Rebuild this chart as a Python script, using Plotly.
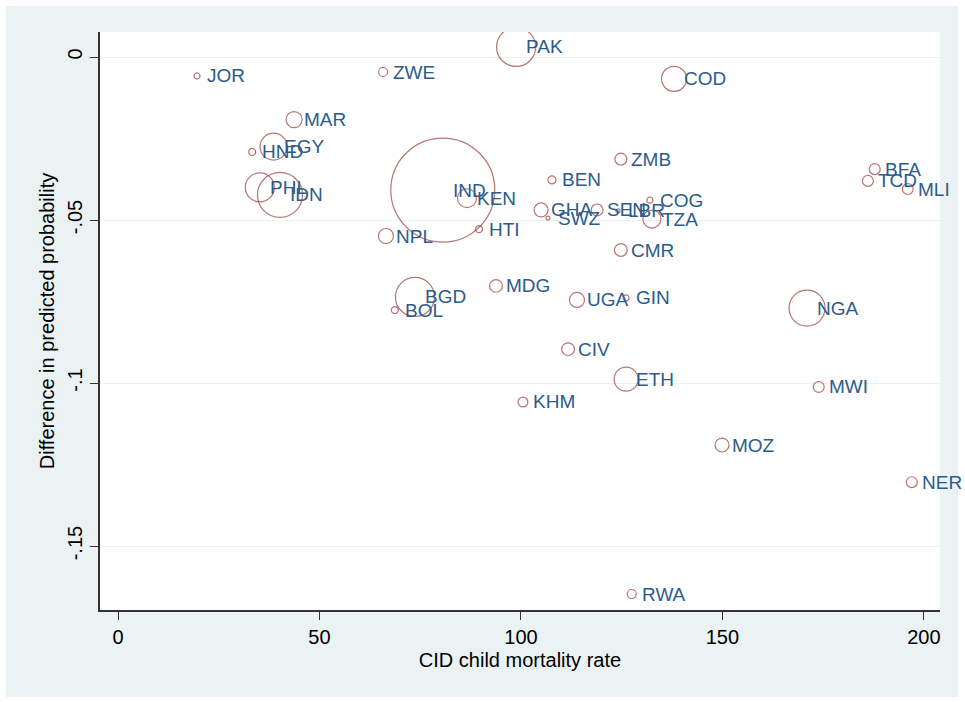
import plotly.graph_objects as go

countries = ["JOR", "ZWE", "PAK", "COD", "MAR", "EGY", "HND", "PHL", "IDN", "IND",
             "KEN", "HTI", "BEN", "ZMB", "GHA", "SWZ", "SEN", "LBR", "COG", "TZA",
             "CMR", "NPL", "MDG", "BGD", "BOL", "UGA", "GIN", "NGA", "CIV", "ETH",
             "MWI", "KHM", "MOZ", "NER", "RWA", "BFA", "TCD", "MLI"]
mortality = [19.6, 65.8, 98.8, 138.0, 43.7, 38.6, 33.3, 35.2, 40.2, 80.6,
             86.6, 89.6, 107.7, 124.8, 105.0, 106.7, 118.9, 124.1, 132.0, 132.5,
             124.8, 66.5, 93.8, 73.7, 68.7, 113.9, 126.1, 171.0, 111.7, 126.1,
             173.9, 100.5, 149.9, 197.0, 127.5, 187.8, 186.1, 196.0]
diff_prob = [-0.0058, -0.0046, 0.0031, -0.0067, -0.0192, -0.0275, -0.0291, -0.0400, -0.0423, -0.0408,
             -0.0433, -0.0528, -0.0377, -0.0313, -0.0469, -0.0494, -0.0469, -0.0472, -0.0439, -0.0497,
             -0.0592, -0.0549, -0.0702, -0.0736, -0.0776, -0.0745, -0.0739, -0.0770, -0.0896, -0.0988,
             -0.1012, -0.1058, -0.1190, -0.1304, -0.1647, -0.0344, -0.0380, -0.0405]
weights = [3.3, 7.5, 141, 58, 24, 67, 4.5, 78, 187, 1000,
           33, 4.5, 6, 13, 18, 0.8, 13, 0.8, 3.3, 30,
           15, 21, 15, 141, 4.5, 21, 3.3, 120, 15, 53,
           11, 9, 18, 11, 7.5, 11, 11, 11]

y_ticks = [0, -0.05, -0.1, -0.15]
y_tick_text = ["0", "-.05", "-.1", "-.15"]
x_ticks = [0, 50, 100, 150, 200]

MARKER_COLOR = "#9C3B3B"
LABEL_COLOR = "#2C5B8C"
BG = "#EAF2F3"
FONT = "Liberation Sans, Arial, sans-serif"

fig = go.Figure()
fig.add_trace(go.Scatter(
    x=mortality, y=diff_prob, mode="markers",
    marker=dict(size=weights, sizemode="area", sizeref=0.185, sizemin=2,
                color="rgba(0,0,0,0)", line=dict(color=MARKER_COLOR, width=1.2)),
    hoverinfo="text", text=countries, showlegend=False,
))

annotations = []
for c, xv, yv in zip(countries, mortality, diff_prob):
    annotations.append(dict(x=xv, y=yv, xref="x", yref="y", text=c, showarrow=False,
                            xanchor="left", yanchor="middle", xshift=8,
                            font=dict(family=FONT, size=19, color=LABEL_COLOR)))

L, R, T, B = 100, 940, 32, 610
W, H = 965, 702
pw, ph = R - L, B - T
def px2paper_x(px):
    return (px - L) / pw
def px2paper_y(py):
    return (B - py) / ph

shapes = [
    dict(type="rect", xref="paper", yref="paper", layer="below",
         x0=px2paper_x(6), x1=px2paper_x(958), y0=px2paper_y(697), y1=px2paper_y(6),
         fillcolor=BG, line=dict(width=0)),
    dict(type="rect", xref="paper", yref="paper", layer="below",
         x0=0, x1=1, y0=0, y1=1, fillcolor="white", line=dict(width=0)),
]

fig.update_layout(
    width=W, height=H,
    margin=dict(l=L, r=W - R, t=T, b=H - B, autoexpand=False),
    paper_bgcolor="white", plot_bgcolor="white",
    font=dict(family=FONT, size=20, color="black"),
    annotations=annotations, shapes=shapes,
    xaxis=dict(range=[-4.47, 204.0], tickvals=x_ticks, showgrid=False, zeroline=False,
               showline=True, linecolor="#333333", linewidth=1.5, ticks="outside",
               ticklen=8, tickcolor="#333333", tickfont=dict(size=20),
               title=dict(text="CID child mortality rate", standoff=6, font=dict(size=20)),
               automargin=False),
    yaxis=dict(range=[-0.1696, 0.00767], tickvals=y_ticks, ticktext=y_tick_text,
               tickangle=-90, showgrid=True, gridcolor=BG, gridwidth=1.2, zeroline=False,
               showline=True, linecolor="#333333", linewidth=1.5, ticks="outside",
               ticklen=8, tickcolor="#333333", tickfont=dict(size=20),
               title=dict(text="Difference in predicted probability", standoff=4, font=dict(size=20)),
               automargin=False),
)

fig.write_html("out.html")
